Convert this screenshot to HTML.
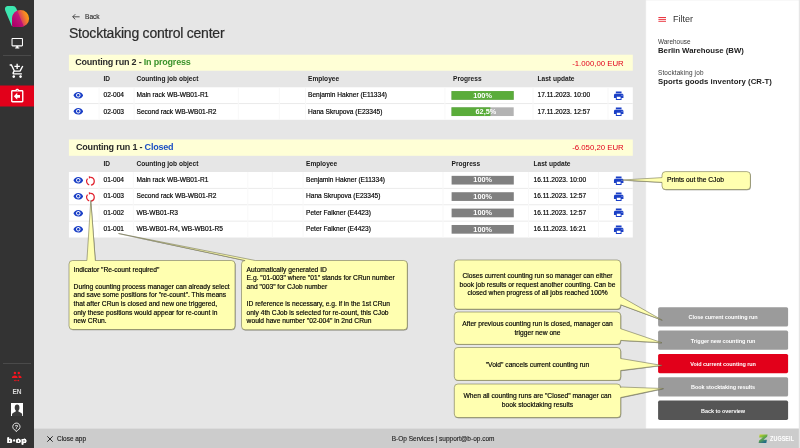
<!DOCTYPE html>
<html lang="en">
<head>
<meta charset="utf-8">
<title>Stocktaking control center</title>
<style>
*{box-sizing:border-box;margin:0;padding:0}
html,body{width:800px;height:448px;overflow:hidden}
body{position:relative;background:#e6e6e6;font-family:"Liberation Sans",sans-serif;color:#222;font-size:7px}
.abs{position:absolute}
#side{left:0;top:0;width:34px;height:448px;background:#333}
#side .sep{left:3px;width:28px;height:1px;background:#4a4a4a}
.t{position:absolute;white-space:nowrap;line-height:1}
.hd{font-weight:bold;font-size:6.6px;color:#1a1a1a}
.c{font-size:6.6px;color:#000;-webkit-text-stroke:0.16px #000}
.ic{position:absolute;display:block}
.ptr{position:absolute;left:0;top:0;width:800px;height:448px;pointer-events:none}
.ttl{font-size:9px;font-weight:bold;color:#2a2a2a;letter-spacing:-0.2px}
.amt{font-size:7.8px;color:#e2001a;text-align:right;right:176.3px}
.bt{width:62.2px;text-align:center;color:#fff;font-weight:bold;font-size:7.3px}
.btn{position:absolute;left:658.1px;width:130px;height:19.3px;color:#fff;font-size:5.5px;letter-spacing:-0.06px;font-weight:bold;text-align:center;line-height:21px}
.nt{position:absolute;font-size:6.7px;line-height:8.6px;color:#000;-webkit-text-stroke:0.16px #000;white-space:nowrap}
.ctr{text-align:center}
</style>
</head>
<body>

<!-- sidebar -->
<div id="side" class="abs">
  <svg class="ic" style="left:0;top:85px" width="34" height="23" viewBox="0 0 34 23"><rect x="0" y="0.500" width="34" height="21" fill="#e2001a"/></svg>
  <div class="abs sep" style="top:54.5px"></div>
  <div class="abs sep" style="top:363px"></div>
  <!-- logo -->
  <svg class="ic" style="left:0;top:0" width="34" height="34" viewBox="0 0 34 34">
    <defs>
      <linearGradient id="lg1" gradientUnits="userSpaceOnUse" x1="17" y1="20" x2="29.500" y2="15">
        <stop offset="0" stop-color="#c4206f"/><stop offset="0.250" stop-color="#d83a62"/><stop offset="0.650" stop-color="#f4802a"/><stop offset="1" stop-color="#fdab0c"/>
      </linearGradient>
      <linearGradient id="lg2" gradientUnits="userSpaceOnUse" x1="12" y1="24" x2="21" y2="16">
        <stop offset="0" stop-color="#ad0068"/><stop offset="1" stop-color="#c31d7e"/>
      </linearGradient>
      <clipPath id="bc"><path d="M20.600 10.100A8.500 8.500 0 1 1 20.600 27.100L14.400 27.100Q12.050 27.100 12.050 24.800L12.050 18.600A8.500 8.500 0 0 1 20.600 10.100Z"/></clipPath>
    </defs>
    <path fill="#3de6b0" d="M5.200 10.400Q4.100 6.700 7.500 6.100L12.800 5.900Q15.200 5.800 16.200 8.200L23.700 26L11.800 26Z"/>
    <path fill="url(#lg1)" d="M20.600 10.100A8.500 8.500 0 1 1 20.600 27.100L14.400 27.100Q12.050 27.100 12.050 24.800L12.050 18.600A8.500 8.500 0 0 1 20.600 10.100Z"/>
    <path fill="url(#lg2)" clip-path="url(#bc)" d="M5.200 10.400Q4.100 6.700 7.500 6.100L12.800 5.900Q15.200 5.800 16.200 8.200L24.300 27.500L12.400 27.500Z"/>
  </svg>
  <!-- monitor -->
  <svg class="ic" style="left:10.5px;top:37.400px" width="12.5" height="12.5" viewBox="0 0 24 24"><path fill="#fff" d="M21 2H3c-1.100 0-2 .9-2 2v12c0 1.100.9 2 2 2h7v2H8v2h8v-2h-2v-2h7c1.100 0 2-.9 2-2V4c0-1.100-.9-2-2-2zm0 14H3V4h18v12z"/></svg>
  <!-- cart -->
  <svg class="ic" style="left:8.900px;top:63px" width="16.300" height="16.300" viewBox="0 0 24 24"><path fill="#fff" d="M11 9h2V6h3V4h-3V1h-2v3H8v2h3v3zm-4 9c-1.100 0-1.990.9-1.990 2S5.900 22 7 22s2-.9 2-2-.9-2-2-2zm10 0c-1.100 0-1.990.9-1.990 2s.890 2 1.990 2 2-.9 2-2-.9-2-2-2zm-9.830-3.250l.030-.120.9-1.630h7.450c.750 0 1.410-.410 1.750-1.030l3.860-7.010L19.420 4h-.010l-1.100 2-2.760 5H8.530l-.130-.270L6.160 6l-.950-2-.940-2H1v2h2l3.600 7.590-1.350 2.450c-.160.280-.250.610-.250.960 0 1.100.9 2 2 2h12v-2H7.420c-.130 0-.250-.110-.250-.250z"/></svg>
  <!-- assignment return -->
  <svg class="ic" style="left:8.900px;top:88.300px" width="16.500" height="16.500" viewBox="0 0 24 24"><path fill="#fff" d="M16 10h-4V7l-5 5 5 5v-3h4v-4zm3-7h-4.180C14.400 1.840 13.300 1 12 1s-2.400.840-2.820 2H5c-1.100 0-2 .9-2 2v14c0 1.100.9 2 2 2h14c1.100 0 2-.9 2-2V5c0-1.100-.9-2-2-2zm-7-.250c.410 0 .750.340.750.750s-.340.750-.750.750-.750-.340-.750-.750.340-.750.750-.750zM19 19H5V5h14v14z"/></svg>
  <!-- people -->
  <svg class="ic" style="left:10px;top:370px" width="14" height="13" viewBox="0 0 14 13">
    <g fill="#f5141e"><circle cx="4.900" cy="3" r="1.200"/><circle cx="8.800" cy="3" r="1.200"/>
    <path d="M1.900 8.100Q1.900 5.500 4.850 5.500Q7.700 5.500 7.700 8.100Z"/>
    <path d="M8.200 5.700Q8.600 5.500 9.100 5.500Q11.600 5.500 11.600 8.100L8.700 8.100Q8.800 6.600 8.200 5.700Z"/>
    <path d="M3.900 10.500L5.300 9.600L5.300 10.200L8 10.200L8 9.600L9.400 10.500L8 11.400L8 10.800L5.300 10.800L5.300 11.400Z"/></g>
  </svg>
  <div class="t" style="left:0;width:34px;text-align:center;top:388.700px;font-size:6.600px;color:#d9d9d9;font-weight:bold;letter-spacing:-0.2px">EN</div>
  <!-- avatar -->
  <svg class="ic" style="left:10.800px;top:402.600px" width="12.200" height="13.200" viewBox="0 0 12.200 13.200">
    <rect width="12.200" height="13.200" fill="#fff"/>
    <ellipse cx="6.100" cy="4.700" rx="2.350" ry="3.100" fill="#3b3b3b"/>
    <path fill="#3b3b3b" d="M4.900 6.800L7.300 6.800L7.300 8.300Q7.600 8.900 9.300 9.400Q11.100 9.900 11.200 11.400L11.200 13.200L1 13.200L1 11.400Q1.100 9.900 2.900 9.400Q4.600 8.900 4.900 8.300Z"/>
  </svg>
  <!-- help -->
  <svg class="ic" style="left:11px;top:421px" width="11" height="12" viewBox="0 0 11 12">
    <path fill="none" stroke="#f2f2f2" stroke-width="0.900" d="M4.800 9.300A3.650 3.650 0 1 1 6.600 9.150L5.300 10.700Z"/>
    <text x="5.450" y="7.600" font-family="Liberation Sans, sans-serif" font-size="5.600" font-weight="bold" fill="#f2f2f2" text-anchor="middle">?</text>
  </svg>
  <div class="t" style="left:0;width:34px;text-align:center;top:437.400px;font-size:7.400px;color:#fff;font-weight:bold;letter-spacing:0.350px;font-family:'DejaVu Sans','Liberation Sans',sans-serif;text-shadow:0.25px 0 0 #fff,-0.25px 0 0 #fff">b·op</div>
</div>

<!-- bg -->
<svg class="ptr" viewBox="0 0 800 448" width="800" height="448">
<rect x="645.6" y="0.3" width="1.2" height="428.3" fill="#efefef"/>
<rect x="646.2" y="0.3" width="152.6" height="428.3" fill="#fff"/>
<rect x="34" y="428.6" width="764.8" height="19.4" fill="#cccccc"/>
<rect x="68.9" y="54.7" width="563.9" height="16.0" fill="#ffffd6"/>
<rect x="68.9" y="87.3" width="563.9" height="32.5" fill="#fff"/>
<rect x="68.9" y="103.05" width="563.9" height="1" fill="#ebebeb"/>
<rect x="98.55" y="87.3" width="1" height="32.5" fill="#f8f8f8"/>
<rect x="133.55" y="87.3" width="1" height="32.5" fill="#f8f8f8"/>
<rect x="237.8" y="87.3" width="1" height="32.5" fill="#f8f8f8"/>
<rect x="278.8" y="87.3" width="1" height="32.5" fill="#f8f8f8"/>
<rect x="305.1" y="87.3" width="1" height="32.5" fill="#f8f8f8"/>
<rect x="444.4" y="87.3" width="1" height="32.5" fill="#f8f8f8"/>
<rect x="532.5" y="87.3" width="1" height="32.5" fill="#f8f8f8"/>
<rect x="607.5" y="87.3" width="1" height="32.5" fill="#f8f8f8"/>
<rect x="451.5" y="91.08" width="62.2" height="8.7" fill="#b3b3b3"/>
<rect x="451.5" y="91.08" width="62.2" height="8.7" fill="#5aac3a"/>
<rect x="451.5" y="107.33" width="62.2" height="8.7" fill="#b3b3b3"/>
<rect x="451.5" y="107.33" width="38.88" height="8.7" fill="#5aac3a"/>
<rect x="68.9" y="139.5" width="563.9" height="16.3" fill="#ffffd6"/>
<rect x="68.9" y="172" width="563.9" height="65.52" fill="#fff"/>
<rect x="68.9" y="187.88" width="563.9" height="1" fill="#ebebeb"/>
<rect x="68.9" y="204.26" width="563.9" height="1" fill="#ebebeb"/>
<rect x="68.9" y="220.64" width="563.9" height="1" fill="#ebebeb"/>
<rect x="98.55" y="172" width="1" height="65.52" fill="#f8f8f8"/>
<rect x="132.8" y="172" width="1" height="65.52" fill="#f8f8f8"/>
<rect x="247.3" y="172" width="1" height="65.52" fill="#f8f8f8"/>
<rect x="271.8" y="172" width="1" height="65.52" fill="#f8f8f8"/>
<rect x="302.6" y="172" width="1" height="65.52" fill="#f8f8f8"/>
<rect x="442.5" y="172" width="1" height="65.52" fill="#f8f8f8"/>
<rect x="528.0" y="172" width="1" height="65.52" fill="#f8f8f8"/>
<rect x="598.1" y="172" width="1" height="65.52" fill="#f8f8f8"/>
<rect x="451.6" y="175.84" width="62.2" height="8.7" fill="#808080"/>
<rect x="451.6" y="192.22" width="62.2" height="8.7" fill="#808080"/>
<rect x="451.6" y="208.6" width="62.2" height="8.7" fill="#808080"/>
<rect x="451.6" y="224.98" width="62.2" height="8.7" fill="#808080"/>
<rect x="658.1" y="307.2" width="130" height="19.3" rx="1.6" fill="#9b9b9b"/>
<rect x="658.1" y="330.55" width="130" height="19.3" rx="1.6" fill="#9b9b9b"/>
<rect x="658.1" y="353.9" width="130" height="19.3" rx="1.6" fill="#e2001a"/>
<rect x="658.1" y="377.25" width="130" height="19.3" rx="1.6" fill="#9b9b9b"/>
<rect x="658.1" y="400.6" width="130" height="19.3" rx="1.6" fill="#555555"/>
</svg>
<!-- /bg -->

<!-- header -->
<div class="t" style="left:85px;top:13.900px;font-size:6.600px;color:#2e2e2e;-webkit-text-stroke:0.120px #2e2e2e">Back</div>
<div class="t" style="left:69px;top:25.700px;font-size:14px;letter-spacing:-0.220px;color:#2b2b2b;-webkit-text-stroke:0.200px #2b2b2b">Stocktaking control center</div>

<!-- table 1 -->
<div class="t ttl" style="left:75.2px;top:58.3px">Counting run 2 - <span style="color:#3b932c">In progress</span></div>
<div class="t amt" style="top:59.6px">-1.000,00 EUR</div>
<div class="t hd" style="left:103.5px;top:75.6px">ID</div>
<div class="t hd" style="left:136.5px;top:75.6px">Counting job object</div>
<div class="t hd" style="left:308px;top:75.6px">Employee</div>
<div class="t hd" style="left:453px;top:75.6px">Progress</div>
<div class="t hd" style="left:537.5px;top:75.6px">Last update</div>
<svg class="ic" style="left:72.9px;top:90.12px" width="10.6" height="10.6" viewBox="0 0 24 24"><path fill="#1a3fc6" d="M12 4.5C7 4.5 2.730 7.610 1 12c1.730 4.390 6 7.500 11 7.500s9.270-3.110 11-7.500c-1.730-4.390-6-7.500-11-7.500zM12 17c-2.760 0-5-2.240-5-5s2.240-5 5-5 5 2.240 5 5-2.240 5-5 5zm0-8c-1.660 0-3 1.340-3 3s1.340 3 3 3 3-1.340 3-3-1.340-3-3-3z"/></svg>
<div class="t c" style="left:103.5px;top:92px">02-004</div>
<div class="t c" style="left:136.5px;top:92px">Main rack WB-WB01-R1</div>
<div class="t c" style="left:308px;top:92px">Benjamin Hakner (E11334)</div>
<div class="t bt" style="left:451.5px;top:92px">100%</div>
<div class="t c" style="left:537.5px;top:92px">17.11.2023. 10:00</div>
<svg class="ic" style="left:612.85px;top:89.83px" width="11.4" height="11.4" viewBox="0 0 24 24"><path fill="#1a3fc6" d="M19 8H5c-1.660 0-3 1.340-3 3v6h4v4h12v-4h4v-6c0-1.660-1.340-3-3-3zm-3 11H8v-5h8v5zm3-7c-.550 0-1-.450-1-1s.450-1 1-1 1 .450 1 1-.450 1-1 1zm-1-9H6v4h12V3z"/></svg>
<svg class="ic" style="left:72.9px;top:106.38px" width="10.6" height="10.6" viewBox="0 0 24 24"><path fill="#1a3fc6" d="M12 4.5C7 4.5 2.730 7.610 1 12c1.730 4.390 6 7.500 11 7.500s9.270-3.110 11-7.500c-1.730-4.390-6-7.500-11-7.500zM12 17c-2.760 0-5-2.240-5-5s2.240-5 5-5 5 2.240 5 5-2.240 5-5 5zm0-8c-1.660 0-3 1.340-3 3s1.340 3 3 3 3-1.340 3-3-1.340-3-3-3z"/></svg>
<div class="t c" style="left:103.5px;top:109px">02-003</div>
<div class="t c" style="left:136.5px;top:109px">Second rack WB-WB01-R2</div>
<div class="t c" style="left:308px;top:109px">Hana Skrupova (E23345)</div>
<div class="t bt" style="left:454.8px;top:108px">62,5%</div>
<div class="t c" style="left:537.5px;top:109px">17.11.2023. 12:57</div>
<svg class="ic" style="left:612.85px;top:106.08px" width="11.4" height="11.4" viewBox="0 0 24 24"><path fill="#1a3fc6" d="M19 8H5c-1.660 0-3 1.340-3 3v6h4v4h12v-4h4v-6c0-1.660-1.340-3-3-3zm-3 11H8v-5h8v5zm3-7c-.550 0-1-.450-1-1s.450-1 1-1 1 .450 1 1-.450 1-1 1zm-1-9H6v4h12V3z"/></svg>

<!-- table 2 -->
<div class="t ttl" style="left:76px;top:143.1px">Counting run 1 - <span style="color:#1c4fc4">Closed</span></div>
<div class="t amt" style="top:144.4px">-6.050,20 EUR</div>
<div class="t hd" style="left:103.5px;top:161px">ID</div>
<div class="t hd" style="left:136.5px;top:161px">Counting job object</div>
<div class="t hd" style="left:306px;top:161px">Employee</div>
<div class="t hd" style="left:451.6px;top:161px">Progress</div>
<div class="t hd" style="left:533.5px;top:161px">Last update</div>
<svg class="ic" style="left:72.9px;top:174.89px" width="10.6" height="10.6" viewBox="0 0 24 24"><path fill="#1a3fc6" d="M12 4.5C7 4.5 2.730 7.610 1 12c1.730 4.390 6 7.500 11 7.500s9.270-3.110 11-7.500c-1.730-4.390-6-7.500-11-7.500zM12 17c-2.760 0-5-2.240-5-5s2.240-5 5-5 5 2.240 5 5-2.240 5-5 5zm0-8c-1.660 0-3 1.340-3 3s1.340 3 3 3 3-1.340 3-3-1.340-3-3-3z"/></svg>
<svg class="ic" style="left:85.05px;top:174.59px" width="11" height="12" viewBox="0 0 11 12"><path fill="none" stroke="#e0202c" stroke-width="1.250" d="M5.53 2.35A3.85 3.85 0 0 1 5.94 10.01M4.21 9.86A3.85 3.85 0 0 1 2.54 3.62"/><path fill="#e0202c" d="M3.900 0.900L6.400 2.300L3.900 3.800z"/></svg>
<div class="t c" style="left:103.5px;top:177px">01-004</div>
<div class="t c" style="left:136.5px;top:177px">Main rack WB-WB01-R1</div>
<div class="t c" style="left:306px;top:177px">Benjamin Hakner (E11334)</div>
<div class="t bt" style="left:451.6px;top:176px">100%</div>
<div class="t c" style="left:533.5px;top:177px">16.11.2023. 10:00</div>
<svg class="ic" style="left:612.85px;top:174.59px" width="11.4" height="11.4" viewBox="0 0 24 24"><path fill="#1a3fc6" d="M19 8H5c-1.660 0-3 1.340-3 3v6h4v4h12v-4h4v-6c0-1.660-1.340-3-3-3zm-3 11H8v-5h8v5zm3-7c-.550 0-1-.450-1-1s.450-1 1-1 1 .450 1 1-.450 1-1 1zm-1-9H6v4h12V3z"/></svg>
<svg class="ic" style="left:72.9px;top:191.27px" width="10.6" height="10.6" viewBox="0 0 24 24"><path fill="#1a3fc6" d="M12 4.5C7 4.5 2.730 7.610 1 12c1.730 4.390 6 7.500 11 7.500s9.270-3.110 11-7.500c-1.730-4.390-6-7.500-11-7.500zM12 17c-2.760 0-5-2.240-5-5s2.240-5 5-5 5 2.240 5 5-2.240 5-5 5zm0-8c-1.660 0-3 1.340-3 3s1.340 3 3 3 3-1.340 3-3-1.340-3-3-3z"/></svg>
<svg class="ic" style="left:85.05px;top:190.97px" width="11" height="12" viewBox="0 0 11 12"><path fill="none" stroke="#e0202c" stroke-width="1.250" d="M5.53 2.35A3.85 3.85 0 0 1 5.94 10.01M4.21 9.86A3.85 3.85 0 0 1 2.54 3.62"/><path fill="#e0202c" d="M3.900 0.900L6.400 2.300L3.900 3.800z"/></svg>
<div class="t c" style="left:103.5px;top:193px">01-003</div>
<div class="t c" style="left:136.5px;top:193px">Second rack WB-WB01-R2</div>
<div class="t c" style="left:306px;top:193px">Hana Skrupova (E23345)</div>
<div class="t bt" style="left:451.6px;top:193px">100%</div>
<div class="t c" style="left:533.5px;top:193px">16.11.2023. 12:57</div>
<svg class="ic" style="left:612.85px;top:190.97px" width="11.4" height="11.4" viewBox="0 0 24 24"><path fill="#1a3fc6" d="M19 8H5c-1.660 0-3 1.340-3 3v6h4v4h12v-4h4v-6c0-1.660-1.340-3-3-3zm-3 11H8v-5h8v5zm3-7c-.550 0-1-.450-1-1s.450-1 1-1 1 .450 1 1-.450 1-1 1zm-1-9H6v4h12V3z"/></svg>
<svg class="ic" style="left:72.9px;top:207.65px" width="10.6" height="10.6" viewBox="0 0 24 24"><path fill="#1a3fc6" d="M12 4.5C7 4.5 2.730 7.610 1 12c1.730 4.390 6 7.500 11 7.500s9.270-3.110 11-7.500c-1.730-4.390-6-7.500-11-7.500zM12 17c-2.760 0-5-2.240-5-5s2.240-5 5-5 5 2.240 5 5-2.240 5-5 5zm0-8c-1.660 0-3 1.340-3 3s1.340 3 3 3 3-1.340 3-3-1.340-3-3-3z"/></svg>
<div class="t c" style="left:103.5px;top:210px">01-002</div>
<div class="t c" style="left:136.5px;top:210px">WB-WB01-R3</div>
<div class="t c" style="left:306px;top:210px">Peter Falkner (E4423)</div>
<div class="t bt" style="left:451.6px;top:209px">100%</div>
<div class="t c" style="left:533.5px;top:210px">16.11.2023. 12:57</div>
<svg class="ic" style="left:612.85px;top:207.35px" width="11.4" height="11.4" viewBox="0 0 24 24"><path fill="#1a3fc6" d="M19 8H5c-1.660 0-3 1.340-3 3v6h4v4h12v-4h4v-6c0-1.660-1.340-3-3-3zm-3 11H8v-5h8v5zm3-7c-.550 0-1-.450-1-1s.450-1 1-1 1 .450 1 1-.450 1-1 1zm-1-9H6v4h12V3z"/></svg>
<svg class="ic" style="left:72.9px;top:224.03px" width="10.6" height="10.6" viewBox="0 0 24 24"><path fill="#1a3fc6" d="M12 4.5C7 4.5 2.730 7.610 1 12c1.730 4.390 6 7.500 11 7.500s9.270-3.110 11-7.500c-1.730-4.390-6-7.500-11-7.500zM12 17c-2.760 0-5-2.240-5-5s2.240-5 5-5 5 2.240 5 5-2.240 5-5 5zm0-8c-1.660 0-3 1.340-3 3s1.340 3 3 3 3-1.340 3-3-1.340-3-3-3z"/></svg>
<div class="t c" style="left:103.5px;top:226px">01-001</div>
<div class="t c" style="left:136.5px;top:226px">WB-WB01-R4, WB-WB01-R5</div>
<div class="t c" style="left:306px;top:226px">Peter Falkner (E4423)</div>
<div class="t bt" style="left:451.6px;top:226px">100%</div>
<div class="t c" style="left:533.5px;top:226px">16.11.2023. 16:21</div>
<svg class="ic" style="left:612.85px;top:223.73px" width="11.4" height="11.4" viewBox="0 0 24 24"><path fill="#1a3fc6" d="M19 8H5c-1.660 0-3 1.340-3 3v6h4v4h12v-4h4v-6c0-1.660-1.340-3-3-3zm-3 11H8v-5h8v5zm3-7c-.550 0-1-.450-1-1s.450-1 1-1 1 .450 1 1-.450 1-1 1zm-1-9H6v4h12V3z"/></svg>

<!-- filter -->
<div class="t" style="left:673px;top:14.5px;font-size:9px;color:#333">Filter</div>
<div class="t" style="left:658px;top:39px;font-size:6.4px;color:#3a3a3a">Warehouse</div>
<div class="t" style="left:658px;top:46.700px;font-size:7.760px;font-weight:bold;color:#1c1c1c">Berlin Warehouse (BW)</div>
<div class="t" style="left:658px;top:70.200px;font-size:6.400px;letter-spacing:0.150px;color:#3a3a3a">Stocktaking job</div>
<div class="t" style="left:658px;top:77.800px;font-size:7.760px;letter-spacing:0.040px;font-weight:bold;color:#1c1c1c">Sports goods inventory (CR-T)</div>

<!-- buttons -->
<div class="btn" style="top:307.2px">Close current counting run</div>
<div class="btn" style="top:330.55px">Trigger new counting run</div>
<div class="btn" style="top:353.9px">Void current counting run</div>
<div class="btn" style="top:377.25px">Book stocktaking results</div>
<div class="btn" style="top:400.6px">Back to overview</div>


<!-- callouts -->
<svg class="ptr" viewBox="0 0 800 448" width="800" height="448">
<g fill="#3a3a2a" fill-opacity="0.45" stroke="none" transform="translate(0.55,0.7)">
<path d="M72.6 260.5L86.9 260.5L90.8 200.4L95.3 260.5L231.4 260.5Q235 260.5 235 264.1L235 325.9Q235 329.5 231.4 329.5L72.6 329.5Q69 329.5 69 325.9L69 264.1Q69 260.5 72.6 260.5Z"/>
<path d="M245.1 260.5L245.1 260.5L118.5 233.5L255.3 260.5L403.7 260.5Q407.3 260.5 407.3 264.1L407.3 326.2Q407.3 329.8 403.7 329.8L245.1 329.8Q241.5 329.8 241.5 326.2L241.5 264.1Q241.5 260.5 245.1 260.5Z"/>
<path d="M457.90000000000003 260L617.1 260Q620.7 260 620.7 263.6L620.7 296.5L662.3 320.2L620.7 304.8L620.7 305.59999999999997Q620.7 309.2 617.1 309.2L457.90000000000003 309.2Q454.3 309.2 454.3 305.59999999999997L454.3 263.6Q454.3 260 457.90000000000003 260Z"/>
<path d="M457.90000000000003 312L617.1 312Q620.7 312 620.7 315.6L620.7 328.7L662 342.7L620.7 340.4L620.7 340.79999999999995Q620.7 344.4 617.1 344.4L457.90000000000003 344.4Q454.3 344.4 454.3 340.79999999999995L454.3 315.6Q454.3 312 457.90000000000003 312Z"/>
<path d="M457.90000000000003 347.5L617.1 347.5Q620.7 347.5 620.7 351.1L620.7 358.5L662 365.4L620.7 370.5L620.7 376.79999999999995Q620.7 380.4 617.1 380.4L457.90000000000003 380.4Q454.3 380.4 454.3 376.79999999999995L454.3 351.1Q454.3 347.5 457.90000000000003 347.5Z"/>
<path d="M457.90000000000003 384L617.1 384Q620.7 384 620.7 387.6L620.7 387L663.5 388.5L620.7 397.5L620.7 414.0Q620.7 417.6 617.1 417.6L457.90000000000003 417.6Q454.3 417.6 454.3 414.0L454.3 387.6Q454.3 384 457.90000000000003 384Z"/>
<path d="M665.6 171.6L746.8 171.6Q750.4 171.6 750.4 175.2L750.4 186.0Q750.4 189.6 746.8 189.6L665.6 189.6Q662 189.6 662 186.0L662 182.4L622.4 180L662 177.6L662 175.2Q662 171.6 665.6 171.6Z"/>
</g>
<g fill="#ffffb0" stroke="#6b6a4c" stroke-width="0.55" stroke-linejoin="round">
<path d="M72.6 260.5L86.9 260.5L90.8 200.4L95.3 260.5L231.4 260.5Q235 260.5 235 264.1L235 325.9Q235 329.5 231.4 329.5L72.6 329.5Q69 329.5 69 325.9L69 264.1Q69 260.5 72.6 260.5Z"/>
<path d="M245.1 260.5L245.1 260.5L118.5 233.5L255.3 260.5L403.7 260.5Q407.3 260.5 407.3 264.1L407.3 326.2Q407.3 329.8 403.7 329.8L245.1 329.8Q241.5 329.8 241.5 326.2L241.5 264.1Q241.5 260.5 245.1 260.5Z"/>
<path d="M457.90000000000003 260L617.1 260Q620.7 260 620.7 263.6L620.7 296.5L662.3 320.2L620.7 304.8L620.7 305.59999999999997Q620.7 309.2 617.1 309.2L457.90000000000003 309.2Q454.3 309.2 454.3 305.59999999999997L454.3 263.6Q454.3 260 457.90000000000003 260Z"/>
<path d="M457.90000000000003 312L617.1 312Q620.7 312 620.7 315.6L620.7 328.7L662 342.7L620.7 340.4L620.7 340.79999999999995Q620.7 344.4 617.1 344.4L457.90000000000003 344.4Q454.3 344.4 454.3 340.79999999999995L454.3 315.6Q454.3 312 457.90000000000003 312Z"/>
<path d="M457.90000000000003 347.5L617.1 347.5Q620.7 347.5 620.7 351.1L620.7 358.5L662 365.4L620.7 370.5L620.7 376.79999999999995Q620.7 380.4 617.1 380.4L457.90000000000003 380.4Q454.3 380.4 454.3 376.79999999999995L454.3 351.1Q454.3 347.5 457.90000000000003 347.5Z"/>
<path d="M457.90000000000003 384L617.1 384Q620.7 384 620.7 387.6L620.7 387L663.5 388.5L620.7 397.5L620.7 414.0Q620.7 417.6 617.1 417.6L457.90000000000003 417.6Q454.3 417.6 454.3 414.0L454.3 387.6Q454.3 384 457.90000000000003 384Z"/>
<path d="M665.6 171.6L746.8 171.6Q750.4 171.6 750.4 175.2L750.4 186.0Q750.4 189.6 746.8 189.6L665.6 189.6Q662 189.6 662 186.0L662 182.4L622.4 180L662 177.6L662 175.2Q662 171.6 665.6 171.6Z"/>
</g></svg>

<div class="nt" style="left:73.6px;top:265.600px;width:160px">Indicator "Re-count required"<br><br>During counting process manager can already select<br>and save some positions for "re-count". This means<br>that after CRun is closed and new one triggered,<br>only these positions would appear for re-count in<br>new CRun.</div>
<div class="nt" style="left:246.6px;top:265.600px;width:160px">Automatically generated ID<br>E.g. "01-003" where "01" stands for CRun number<br>and "003" for CJob number<br><br>ID reference is necessary, e.g. if in the 1st CRun<br>only 4th CJob is selected for re-count, this CJob<br>would have number "02-004" in 2nd CRun</div>
<div class="nt ctr" style="left:454px;top:272px;width:167px">Closes current counting run so manager can either<br>book job results or request another counting. Can be<br>closed when progress of all jobs reached 100%</div>
<div class="nt ctr" style="left:454px;top:320px;width:167px">After previous counting run is closed, manager can<br>trigger new one</div>
<div class="nt ctr" style="left:454px;top:360.500px;width:167px">"Void" cancels current counting run</div>
<div class="nt ctr" style="left:454px;top:392px;width:167px">When all counting runs are "Closed" manager can<br>book stocktaking results</div>
<div class="nt" style="left:667px;top:175.7px">Prints out the CJob</div>


<!-- small icons -->
<svg class="ic" style="left:71.500px;top:12.500px" width="8" height="8" viewBox="0 0 8 8"><path fill="none" stroke="#333" stroke-width="0.850" d="M7.600 3.800L0.800 3.800M3.300 1.200L0.700 3.800L3.300 6.400"/></svg>
<svg class="ic" style="left:658px;top:16px" width="9" height="7" viewBox="0 0 9 7"><path fill="none" stroke="#e8212e" stroke-width="0.900" d="M0.400 1.500L8 1.500M0.400 3.400L8 3.400M0.400 5.300L8 5.300"/></svg>
<svg class="ic" style="left:46px;top:434.600px" width="8" height="8" viewBox="0 0 8 8"><path fill="none" stroke="#2a2a2a" stroke-width="1" d="M1.300 1.300L6.700 6.700M6.700 1.300L1.300 6.700"/></svg>
<svg class="ic" style="left:757px;top:433px" width="12" height="11" viewBox="0 0 12 11">
  <defs><linearGradient id="zg" x1="0" y1="0" x2="0.600" y2="1"><stop offset="0" stop-color="#d8dc2a"/><stop offset="0.450" stop-color="#6fb23f"/><stop offset="1" stop-color="#1f6a8a"/></linearGradient></defs>
  <path fill="url(#zg)" d="M2.600 1.400L10.600 1.400L10.100 3.700L6.400 6.700L9.900 6.700L9.300 9.900L1.600 9.900L2.100 7.500L5.800 4.500L2.100 4.500Z"/>
</svg>
<div class="t" style="left:770.300px;top:434.900px;font-size:7.600px;font-weight:bold;color:#fff;transform-origin:0 0;transform:scaleX(0.715);letter-spacing:0.1px">ZUGSEIL</div>

<!-- footer -->
<div class="t" style="left:57px;top:435.700px;font-size:6.450px;color:#222;-webkit-text-stroke:0.150px #222">Close app</div>
<div class="t" style="left:391.700px;top:435.700px;font-size:6.530px;color:#222;-webkit-text-stroke:0.120px #222">B-Op Services | support@b-op.com</div>

</body>
</html>
